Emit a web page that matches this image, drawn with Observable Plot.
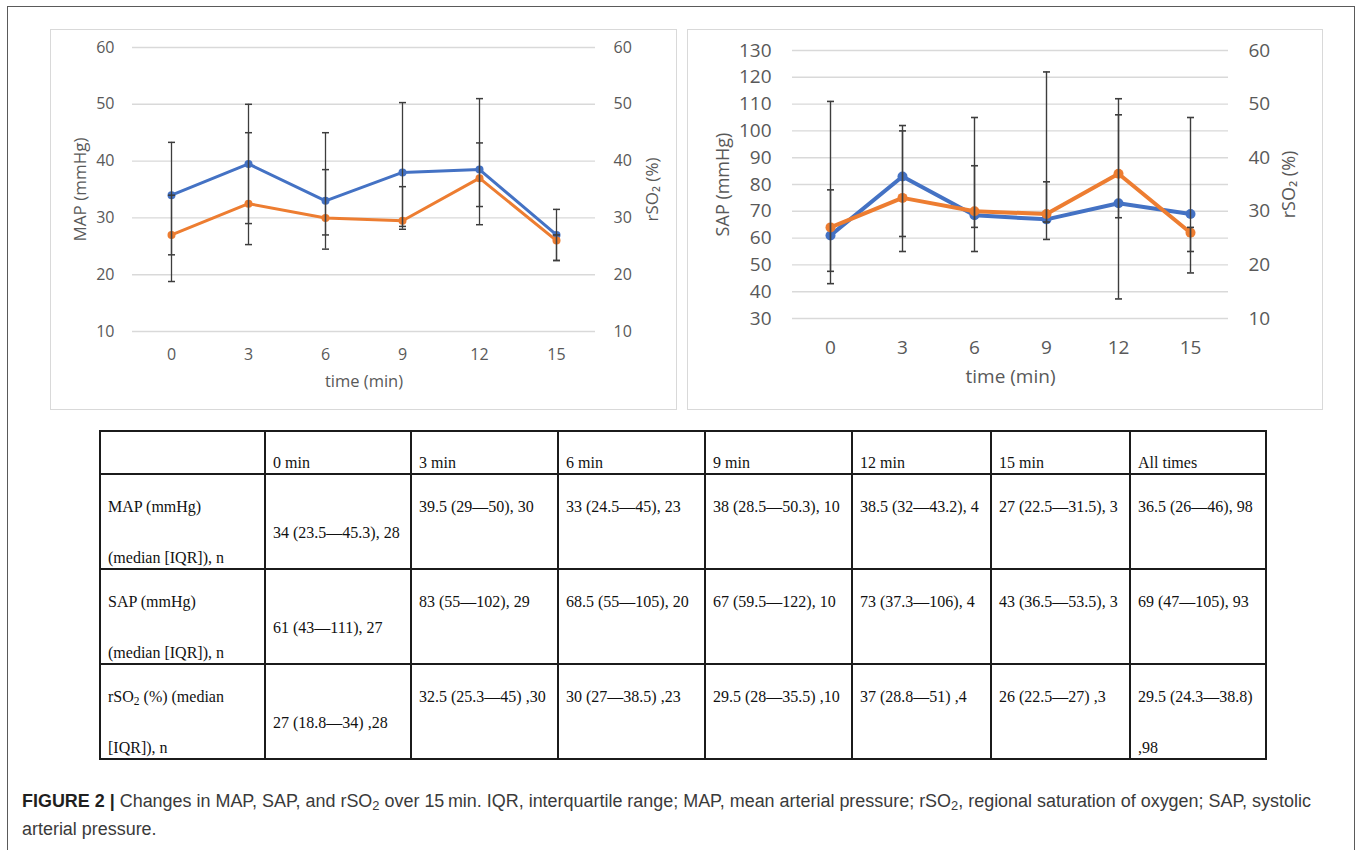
<!DOCTYPE html>
<html>
<head>
<meta charset="utf-8">
<script src="https://cdn.jsdelivr.net/npm/d3@7"></script>
<script src="https://cdn.jsdelivr.net/npm/@observablehq/plot@0.6"></script>
<style>
html, body { margin: 0; padding: 0; background: #fff; }
#page { position: relative; width: 1357px; height: 850px; overflow: hidden; background: #fff; }
#frame { position: absolute; left: 7px; top: 6px; width: 1348px; height: 900px; border: 1.5px solid #5a5a5a; box-sizing: border-box; }
.panel { position: absolute; top: 29px; height: 381px; outline: 1px solid #d9d9d9; outline-offset: -1px; background: #fff; }
#p1 { left: 50px; width: 627px; }
#p2 { left: 687px; width: 636px; }
.panel svg { position: absolute; left: 0; top: 0; }
#tbl { position: absolute; left: 99px; top: 430px; border-collapse: collapse; table-layout: fixed;
  font-family: "Liberation Serif", "Times New Roman", serif; font-size: 16px; color: #111; }
#tbl td { border: 2px solid #1b1b1b; padding: 0 0 0 7px; vertical-align: top; line-height: 20px; white-space: nowrap; overflow: hidden; }
#tbl tr.hdr td { height: 40px; }
#tbl tr.body td { height: 92px; }
#tbl .l1 { padding-top: 22px; }
#tbl .hd { padding-top: 21px; }
#tbl .mid { padding-top: 48px; }
#tbl .l2 { margin-top: 31px; }
#tbl sub, #cap sub { font-size: 0.72em; vertical-align: -0.25em; line-height: 0; }
#cap { position: absolute; left: 22px; top: 787px; font-family: "Liberation Sans", Arial, sans-serif; font-size: 17.95px; line-height: 28px; color: #3a3a3a; white-space: nowrap; }
#cap b { color: #1f1f1f; }
</style>
</head>
<body>
<div id="page">
  <div id="frame"></div>
  <div class="panel" id="p1"></div>
  <div class="panel" id="p2"></div>
  <table id="tbl"></table>
  <div id="cap"><b>FIGURE 2 |</b> Changes in MAP, SAP, and rSO<sub>2</sub> over 15&#8201;min. IQR, interquartile range; MAP, mean arterial pressure; rSO<sub>2</sub>, regional saturation of oxygen; SAP, systolic<br>arterial pressure.</div>
</div>
<script>
// ---------- data ----------
const times = [0, 3, 6, 9, 12, 15];
const mapMedian = [34, 39.5, 33, 38, 38.5, 27];
const mapLow    = [23.5, 29, 24.5, 28.5, 32, 22.5];
const mapHigh   = [43.3, 50, 45, 50.3, 43.2, 31.5];
const rso2Median = [27, 32.5, 30, 29.5, 37, 26];
const rso2Low    = [18.8, 25.3, 27, 28, 28.8, 22.5];
const rso2High   = [34, 45, 38.5, 35.5, 51, 27];
const sapMedian = [61, 83, 68.5, 67, 73, 69];
const sapLow    = [43, 55, 55, 59.5, 37.3, 47];
const sapHigh   = [111, 102, 105, 122, 106, 105];

const leftTicks = [10, 20, 30, 40, 50, 60];
const sapTicks = [30, 40, 50, 60, 70, 80, 90, 100, 110, 120, 130];
const rso2RightTicks = [10, 20, 30, 40, 50, 60];

// table
const tableHeader = ["", "0 min", "3 min", "6 min", "9 min", "12 min", "15 min", "All times"];
const rowLabels = [
  ["MAP (mmHg)", "(median [IQR]), n"],
  ["SAP (mmHg)", "(median [IQR]), n"],
  ["rSO<sub>2</sub> (%) (median", "[IQR]), n"]
];
const mapCells  = ["34 (23.5—45.3), 28", "39.5 (29—50), 30", "33 (24.5—45), 23", "38 (28.5—50.3), 10", "38.5 (32—43.2), 4", "27 (22.5—31.5), 3", "36.5 (26—46), 98"];
const sapCells  = ["61 (43—111), 27", "83 (55—102), 29", "68.5 (55—105), 20", "67 (59.5—122), 10", "73 (37.3—106), 4", "43 (36.5—53.5), 3", "69 (47—105), 93"];
const rso2Cells = ["27 (18.8—34) ,28", "32.5 (25.3—45) ,30", "30 (27—38.5) ,23", "29.5 (28—35.5) ,10", "37 (28.8—51) ,4", "26 (22.5—27) ,3", ["29.5 (24.3—38.8)", ",98"]];

// ---------- styles ----------
const BLUE = "#4472C4", ORANGE = "#ED7D31", BAR = "#3d3d3d", GRID = "#d9d9d9", TXT = "#595959";
const capSymbol = { draw(ctx, size) { const w = Math.sqrt(size / Math.PI); ctx.moveTo(-w, 0); ctx.lineTo(w, 0); } };

const rows = times.map((t, i) => ({
  t, map: mapMedian[i], mapLo: mapLow[i], mapHi: mapHigh[i],
  rso2: rso2Median[i], rLo: rso2Low[i], rHi: rso2High[i],
  sap: sapMedian[i], sLo: sapLow[i], sHi: sapHigh[i]
}));
const toSap = v => v * 2 + 10; // right axis (rSO2) of the SAP chart

// ---------- left chart: MAP & rSO2 ----------
const capsL = rows.flatMap(d => [{t: d.t, v: d.mapLo}, {t: d.t, v: d.mapHi}, {t: d.t, v: d.rLo}, {t: d.t, v: d.rHi}]);
const chart1 = Plot.plot({
  width: 627, height: 381,
  marginLeft: 82, marginRight: 82, marginTop: 18, marginBottom: 79,
  style: {fontFamily: "'Open Sans', sans-serif", fontSize: "16px", color: TXT, background: "transparent"},
  x: {type: "point", domain: times, padding: 0.5},
  y: {domain: [10, 60]},
  marks: [
    Plot.ruleY(leftTicks, {stroke: GRID, strokeWidth: 1.4}),
    Plot.axisY(leftTicks, {anchor: "left", tickSize: 0, tickPadding: 18, label: null}),
    Plot.axisY(leftTicks, {anchor: "right", tickSize: 0, tickPadding: 18, label: null}),
    Plot.axisX({tickSize: 0, tickPadding: 17, label: null}),
    Plot.line(rows, {x: "t", y: "map", stroke: BLUE, strokeWidth: 3}),
    Plot.dot(rows, {x: "t", y: "map", r: 4, fill: BLUE}),
    Plot.line(rows, {x: "t", y: "rso2", stroke: ORANGE, strokeWidth: 3}),
    Plot.dot(rows, {x: "t", y: "rso2", r: 4, fill: ORANGE}),
    Plot.ruleX(rows, {x: "t", y1: "mapLo", y2: "mapHi", stroke: BAR, strokeWidth: 1.3}),
    Plot.ruleX(rows, {x: "t", y1: "rLo", y2: "rHi", stroke: BAR, strokeWidth: 1.3}),
    Plot.dot(capsL, {x: "t", y: "v", symbol: capSymbol, r: 3.5, stroke: BAR, fill: "none", strokeWidth: 1.5}),
    Plot.text(["MAP (mmHg)"], {frameAnchor: "left", textAnchor: "middle", rotate: -90, dx: -52, fill: TXT, fontSize: 17}),
    Plot.text(["rSO₂ (%)"], {frameAnchor: "right", textAnchor: "middle", rotate: -90, dx: 57, fill: TXT, fontSize: 17}),
    Plot.text(["time (min)"], {frameAnchor: "bottom", dy: 55, fill: TXT, fontSize: 16.5})
  ]
});
document.getElementById("p1").appendChild(chart1);

// ---------- right chart: SAP & rSO2 ----------
const capsR = rows.flatMap(d => [{t: d.t, v: d.sLo}, {t: d.t, v: d.sHi}, {t: d.t, v: toSap(d.rLo)}, {t: d.t, v: toSap(d.rHi)}]);
const chart2 = Plot.plot({
  width: 636, height: 381,
  marginLeft: 105, marginRight: 95, marginTop: 21, marginBottom: 92,
  style: {fontFamily: "'Open Sans', sans-serif", fontSize: "19px", color: TXT, background: "transparent"},
  x: {type: "point", domain: times, padding: 0.5},
  y: {domain: [30, 130]},
  marks: [
    Plot.ruleY(sapTicks, {stroke: GRID, strokeWidth: 1.4}),
    Plot.axisY(sapTicks, {anchor: "left", tickSize: 0, tickPadding: 21, label: null}),
    Plot.axisY(rso2RightTicks.map(toSap), {anchor: "right", tickSize: 0, tickPadding: 20, label: null, tickFormat: d => (d - 10) / 2}),
    Plot.axisX({tickSize: 0, tickPadding: 22, label: null}),
    Plot.line(rows, {x: "t", y: "sap", stroke: BLUE, strokeWidth: 4}),
    Plot.dot(rows, {x: "t", y: "sap", r: 5, fill: BLUE}),
    Plot.line(rows, {x: "t", y: d => toSap(d.rso2), stroke: ORANGE, strokeWidth: 4}),
    Plot.dot(rows, {x: "t", y: d => toSap(d.rso2), r: 5, fill: ORANGE}),
    Plot.ruleX(rows, {x: "t", y1: "sLo", y2: "sHi", stroke: BAR, strokeWidth: 1.4}),
    Plot.ruleX(rows, {x: "t", y1: d => toSap(d.rLo), y2: d => toSap(d.rHi), stroke: BAR, strokeWidth: 1.4}),
    Plot.dot(capsR, {x: "t", y: "v", symbol: capSymbol, r: 3.5, stroke: BAR, fill: "none", strokeWidth: 1.6}),
    Plot.text(["SAP (mmHg)"], {frameAnchor: "left", textAnchor: "middle", rotate: -90, dx: -69, fill: TXT, fontSize: 18}),
    Plot.text(["rSO₂ (%)"], {frameAnchor: "right", textAnchor: "middle", rotate: -90, dx: 61, fill: TXT, fontSize: 18}),
    Plot.text(["time (min)"], {frameAnchor: "bottom", dy: 64, fill: TXT, fontSize: 19})
  ]
});
document.getElementById("p2").appendChild(chart2);

// ---------- table ----------
const colWidths = [165, 146, 147, 147, 147, 139, 139, 136];
const tbl = document.getElementById("tbl");
const cg = document.createElement("colgroup");
colWidths.forEach(w => { const c = document.createElement("col"); c.style.width = w + "px"; cg.appendChild(c); });
tbl.appendChild(cg);
tbl.style.width = d3.sum(colWidths) + "px";
const hr = tbl.insertRow(); hr.className = "hdr";
tableHeader.forEach(h => { const td = hr.insertCell(); td.innerHTML = `<div class="hd">${h || "&nbsp;"}</div>`; });
[mapCells, sapCells, rso2Cells].forEach((cells, r) => {
  const tr = tbl.insertRow(); tr.className = "body";
  const lab = tr.insertCell();
  lab.innerHTML = `<div class="l1">${rowLabels[r][0]}</div><div class="l2">${rowLabels[r][1]}</div>`;
  cells.forEach((c, i) => {
    const td = tr.insertCell();
    if (Array.isArray(c)) td.innerHTML = `<div class="l1">${c[0]}</div><div class="l2">${c[1]}</div>`;
    else if (i === 0) td.innerHTML = `<div class="mid">${c}</div>`;
    else td.innerHTML = `<div class="l1">${c}</div>`;
  });
});
</script>
</body>
</html>
